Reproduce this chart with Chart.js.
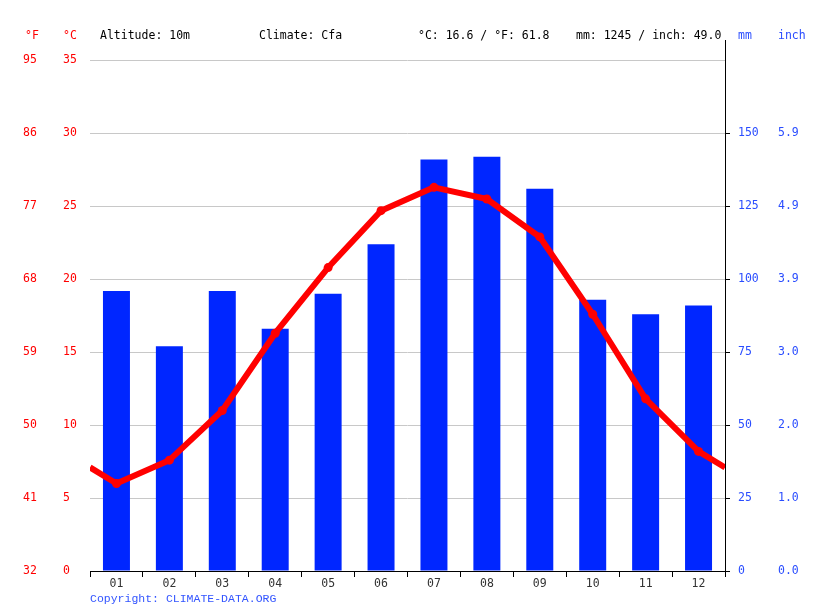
<!DOCTYPE html>
<html>
<head>
<meta charset="utf-8">
<script src="https://cdn.jsdelivr.net/npm/chart.js@4.4.0/dist/chart.umd.min.js"></script>
<style>
  body { margin: 0; background: #fff; }
  #wrap { width: 815px; height: 611px; }
</style>
</head>
<body>
<div id="wrap"><canvas id="myChart" width="815" height="611"></canvas></div>
<script>
// climate data
const months = ['01', '02', '03', '04', '05', '06', '07', '08', '09', '10', '11', '12'];
const precipMm = [96, 77, 96, 83, 95, 112, 141, 142, 131, 93, 88, 91];
const tempC = [6.0, 7.6, 11.0, 16.3, 20.8, 24.7, 26.3, 25.5, 22.9, 17.6, 11.8, 8.2];
const tempTicks = [0, 5, 10, 15, 20, 25, 30, 35];
const mmTicks = [0, 25, 50, 75, 100, 125, 150];
const altitude = '10m';
const climate = 'Cfa';

const red = '#ff0000';
const blue = '#0026ff';
const monoFont = 'DejaVu Sans Mono';

const avgC = tempC.reduce((a, b) => a + b, 0) / tempC.length;
const totalMm = precipMm.reduce((a, b) => a + b, 0);

// the line runs out to the plot edges, through the mean of Dec and Jan
const edgeC = (tempC[0] + tempC[11]) / 2;
const linePts = [{x: 0.5, y: edgeC}];
tempC.forEach((t, i) => linePts.push({x: i + 1, y: t}));
linePts.push({x: 12.5, y: edgeC});

const barPts = precipMm.map((v, i) => ({x: i + 1, y: v}));

const topC = 36.4;

const headerPlugin = {
    id: 'header',
    afterDraw(chart) {
        const c = chart.ctx;
        c.save();
        c.font = '11.5px "' + monoFont + '"';
        c.textBaseline = 'middle';
        c.textAlign = 'left';
        c.fillStyle = red;
        c.fillText('°F', 25, 36);
        c.fillText('°C', 63, 36);
        c.fillStyle = '#000';
        c.fillText('Altitude: ' + altitude, 100, 36);
        c.fillText('Climate: ' + climate, 259, 36);
        c.fillText('°C: ' + avgC.toFixed(1) + ' / °F: ' + (avgC * 9 / 5 + 32).toFixed(1), 418, 36);
        c.fillText('mm: ' + totalMm + ' / inch: ' + (totalMm / 25.4).toFixed(1), 576, 36);
        c.fillStyle = '#2a4dff';
        c.fillText('mm', 738, 36);
        c.fillText('inch', 778, 36);
        c.font = '11.5px "Liberation Mono"';
        c.fillStyle = '#3355ff';
        c.fillText('Copyright: CLIMATE-DATA.ORG', 90, 599);
        c.restore();
    }
};

const ctx = document.getElementById('myChart').getContext('2d');

const myChart = new Chart(ctx, {
    type: 'bar',
    data: {
        datasets: [{
            type: 'line',
            data: linePts,
            yAxisID: 'y',
            borderColor: red,
            backgroundColor: red,
            borderWidth: 6,
            tension: 0,
            borderJoinStyle: 'round',
            pointRadius: c => (c.dataIndex === 0 || c.dataIndex === linePts.length - 1) ? 0 : 4.5,
            pointBorderWidth: 0,
            pointBackgroundColor: red,
            order: 0
        }, {
            type: 'bar',
            data: barPts,
            yAxisID: 'yMM',
            backgroundColor: blue,
            // bar width is measured against the half-month tick spacing
            barPercentage: 1.02,
            categoryPercentage: 1,
            order: 1
        }]
    },
    options: {
        responsive: false,
        animation: false,
        layout: { padding: { top: 40, left: 23, right: 0, bottom: 0 } },
        plugins: { legend: { display: false }, tooltip: { enabled: false } },
        scales: {
            x: {
                type: 'linear',
                offset: false,
                min: 0.5,
                max: 12.5,
                afterBuildTicks: s => {
                    const t = [];
                    for (let i = 0; i <= 24; i++) t.push({value: 0.5 + i * 0.5});
                    s.ticks = t;
                },
                afterFit: s => { s.height = 40; },
                ticks: {
                    autoSkip: false,
                    maxRotation: 0,
                    padding: 0,
                    color: '#333',
                    font: { family: monoFont, size: 11.5 },
                    callback: v => Number.isInteger(v) ? months[v - 1] : ''
                },
                grid: {
                    drawOnChartArea: false,
                    tickLength: 6,
                    offset: false,
                    color: c => (c.tick && !Number.isInteger(c.tick.value)) ? '#000' : 'rgba(0,0,0,0)'
                },
                border: { color: '#000', width: 1 }
            },
            y: {
                position: 'left',
                weight: 1,
                min: 0,
                max: topC,
                afterBuildTicks: s => { s.ticks = tempTicks.map(v => ({value: v})); },
                afterFit: s => { s.width = 27; },
                ticks: {
                    crossAlign: 'far',
                    color: red,
                    font: { family: monoFont, size: 11.5 }
                },
                grid: { color: '#c8c8c8', drawTicks: false },
                border: { display: false }
            },
            yF: {
                position: 'left',
                weight: 2,
                min: 0,
                max: topC,
                afterBuildTicks: s => { s.ticks = tempTicks.map(v => ({value: v})); },
                afterFit: s => { s.width = 40; },
                ticks: {
                    crossAlign: 'far',
                    color: red,
                    font: { family: monoFont, size: 11.5 },
                    callback: v => Math.round(v * 9 / 5 + 32)
                },
                grid: { display: false, drawTicks: false },
                border: { display: false }
            },
            yMM: {
                position: 'right',
                weight: 1,
                min: 0,
                max: topC * 5,
                afterBuildTicks: s => { s.ticks = mmTicks.map(v => ({value: v})); },
                afterFit: s => { s.width = 53; },
                ticks: {
                    crossAlign: 'near',
                    padding: 8,
                    color: '#2a4dff',
                    font: { family: monoFont, size: 11.5 }
                },
                grid: { drawOnChartArea: false, tickLength: 5, color: '#000' },
                border: { color: '#000', width: 1 }
            },
            yIn: {
                position: 'right',
                weight: 2,
                min: 0,
                max: topC * 5,
                afterBuildTicks: s => { s.ticks = mmTicks.map(v => ({value: v})); },
                afterFit: s => { s.width = 37; },
                ticks: {
                    crossAlign: 'near',
                    padding: 0,
                    color: '#2a4dff',
                    font: { family: monoFont, size: 11.5 },
                    callback: v => (v / 25.4).toFixed(1)
                },
                grid: { display: false, drawTicks: false },
                border: { display: false }
            }
        }
    },
    plugins: [headerPlugin]
});
</script>
</body>
</html>
